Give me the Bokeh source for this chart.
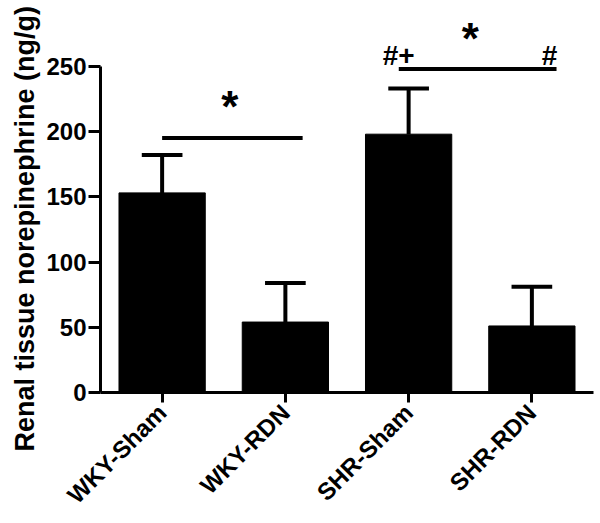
import math
from bokeh.plotting import figure
from bokeh.models import Range1d, FixedTicker, Title
from bokeh.core.properties import value
from bokeh.embed import file_html
from bokeh.resources import INLINE

# data
groups = ["WKY-Sham", "WKY-RDN", "SHR-Sham", "SHR-RDN"]
means = [153, 54, 198, 51]
sems = [29, 30, 35, 30]

# significance annotations (category index units / data units)
sig_x0 = [0.0, 1.92]
sig_x1 = [1.14, 3.2]
sig_y = [195, 248]
star_x = [0.55, 2.5]
star_y = [219, 271]
mark_x = [1.79, 3.08]
mark_y = [258, 258]
mark_text = ["#+", "#"]

FONT = value("Liberation Sans")

xs = list(range(len(groups)))
tops = [m + s for m, s in zip(means, sems)]

p = figure(width=598, height=521, output_backend="svg", toolbar_location=None,
           x_range=Range1d(-0.5, 3.5), y_range=Range1d(0, 297.4),
           min_border_left=100, min_border_right=5, min_border_top=4, min_border_bottom=128)
p.outline_line_color = None
p.grid.visible = False
p.background_fill_color = "white"

p.vbar(x=xs, top=means, bottom=0, width=0.7, color="black")
p.segment(x0=xs, y0=means, x1=xs, y1=tops, line_color="black", line_width=4)
p.segment(x0=[x - 0.165 for x in xs], y0=tops, x1=[x + 0.165 for x in xs], y1=tops,
          line_color="black", line_width=4)

p.segment(x0=sig_x0, y0=sig_y, x1=sig_x1, y1=sig_y, line_color="black", line_width=4)
p.text(x=star_x, y=star_y, text=["*", "*"], text_font=FONT, text_font_style="bold",
       text_font_size="44px", text_align="center", text_baseline="middle", color="black")
p.text(x=mark_x, y=mark_y, text=mark_text, text_font=FONT, text_font_style="bold",
       text_font_size="28px", text_align="left", text_baseline="middle", color="black")

# y axis
ya = p.yaxis[0]
ya.bounds = (0, 250)
ya.ticker = FixedTicker(ticks=[0, 50, 100, 150, 200, 250])
ya.axis_line_width = 3
ya.axis_line_color = "black"
ya.major_tick_line_width = 3
ya.major_tick_line_color = "black"
ya.major_tick_out = 12
ya.major_tick_in = 0
ya.minor_tick_out = 0
ya.minor_tick_in = 0
ya.major_label_text_font = "Liberation Sans"
ya.major_label_text_font_style = "bold"
ya.major_label_text_font_size = "24px"
ya.major_label_text_color = "black"
ya.major_label_standoff = 2

ytitle = Title(text="Renal tissue norepinephrine (ng/g)", align="left", offset=-59,
               text_font="Liberation Sans", text_font_style="bold",
               text_font_size="27px", text_color="black", standoff=8)
p.add_layout(ytitle, "left")

# x axis
xa = p.xaxis[0]
xa.ticker = FixedTicker(ticks=xs)
xa.major_label_overrides = {i: g for i, g in enumerate(groups)}
xa.axis_line_width = 3
xa.axis_line_color = "black"
xa.major_tick_line_width = 3
xa.major_tick_line_color = "black"
xa.major_tick_out = 10
xa.major_tick_in = 0
xa.minor_tick_out = 0
xa.minor_tick_in = 0
xa.major_label_orientation = math.pi / 4
xa.major_label_text_font = "Liberation Sans"
xa.major_label_text_font_style = "bold"
xa.major_label_text_font_size = "24px"
xa.major_label_text_color = "black"
xa.major_label_standoff = 6

open("out.html", "w").write(file_html(p, INLINE))
